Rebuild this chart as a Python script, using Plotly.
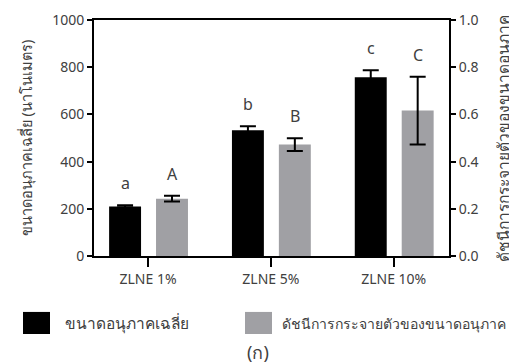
import plotly.graph_objects as go

categories = ["ZLNE 1%", "ZLNE 5%", "ZLNE 10%"]
size_nm = [210, 533, 757]
size_err = [5, 17, 30]
pdi = [0.243, 0.472, 0.616]
pdi_err = [0.012, 0.027, 0.144]
size_letters = ["a", "b", "c"]
pdi_letters = ["A", "B", "C"]
series_names = ["ขนาดอนุภาคเฉลี่ย", "ดัชนีการกระจายตัวของขนาดอนุภาค"]
left_title = "ขนาดอนุภาคเฉลี่ย (นาโนเมตร)"
right_title = "ดัชนีการกระจายตัวของขนาดอนุภาค"
caption = "(ก)"

BLACK = "#000000"
GREY = "#a0a0a4"
TXT = "#404040"
FONT = "Noto Sans, sans-serif"

fig = go.Figure()
fig.add_trace(go.Bar(
    x=categories, y=size_nm, name=series_names[0],
    marker=dict(color=BLACK, line=dict(width=0)),
    width=0.26, offset=-0.317,
    error_y=dict(type="data", array=size_err, color=BLACK, thickness=2, width=8),
    yaxis="y", showlegend=False,
))
fig.add_trace(go.Bar(
    x=categories, y=pdi, name=series_names[1],
    marker=dict(color=GREY, line=dict(width=0)),
    width=0.26, offset=0.065,
    error_y=dict(type="data", array=pdi_err, color=BLACK, thickness=2, width=8),
    yaxis="y2", showlegend=False,
))

annotations = []
for i in range(len(categories)):
    annotations.append(dict(x=i - 0.187, y=size_nm[i] + size_err[i], xref="x", yref="y",
                            text=size_letters[i], showarrow=False, yanchor="bottom", yshift=9,
                            font=dict(size=16, color=TXT, family=FONT)))
    annotations.append(dict(x=i + 0.195, y=pdi[i] + pdi_err[i], xref="x", yref="y2",
                            text=pdi_letters[i], showarrow=False, yanchor="bottom", yshift=9,
                            font=dict(size=16, color=TXT, family=FONT)))

# legend (manual)
annotations.append(dict(x=-0.087, y=-0.284, xref="paper", yref="paper", text=series_names[0],
                        showarrow=False, xanchor="left", yanchor="middle",
                        font=dict(size=15.5, color=TXT, family=FONT)))
annotations.append(dict(x=0.524, y=-0.284, xref="paper", yref="paper", text=series_names[1],
                        showarrow=False, xanchor="left", yanchor="middle",
                        font=dict(size=14, color=TXT, family=FONT)))
annotations.append(dict(x=0.462, y=-0.407, xref="paper", yref="paper", text=caption,
                        showarrow=False, xanchor="center", yanchor="middle",
                        font=dict(size=18, color=TXT, family=FONT)))

shapes = [
    dict(type="rect", xref="paper", yref="paper", x0=-0.2, x1=-0.124, y0=-0.3305, y1=-0.237,
         fillcolor=BLACK, line=dict(width=0)),
    dict(type="rect", xref="paper", yref="paper", x0=0.4254, x1=0.5014, y0=-0.3305, y1=-0.237,
         fillcolor=GREY, line=dict(width=0)),
]

fig.update_layout(
    width=509, height=356,
    margin=dict(l=86, r=68, t=12, b=108),
    paper_bgcolor="white", plot_bgcolor="white",
    font=dict(family=FONT, color=TXT, size=14),
    barmode="overlay",
    xaxis=dict(range=[-0.44, 2.45], showline=True, linecolor=BLACK, linewidth=2, mirror=True,
               ticks="outside", ticklen=9, tickwidth=2, tickcolor=BLACK, automargin=False,
               tickfont=dict(size=14, color=TXT), showgrid=False, zeroline=False),
    yaxis=dict(range=[0, 1000], dtick=200, showline=True, linecolor=BLACK, linewidth=2,
               ticks="outside", ticklen=5, tickwidth=2, tickcolor=BLACK, automargin=False,
               tickfont=dict(size=14, color=TXT), showgrid=False, zeroline=False,
               title=dict(text=left_title, font=dict(size=14.5, color=TXT), standoff=16)),
    yaxis2=dict(range=[0, 1], dtick=0.2, tickformat=".1f", overlaying="y", side="right",
                showline=True, linecolor=BLACK, linewidth=2, automargin=False,
                ticks="outside", ticklen=5, tickwidth=2, tickcolor=BLACK,
                tickfont=dict(size=14, color=TXT), showgrid=False, zeroline=False,
                title=dict(text=right_title, font=dict(size=15.5, color=TXT), standoff=21)),
    annotations=annotations, shapes=shapes,
)

fig.write_html("out.html")
